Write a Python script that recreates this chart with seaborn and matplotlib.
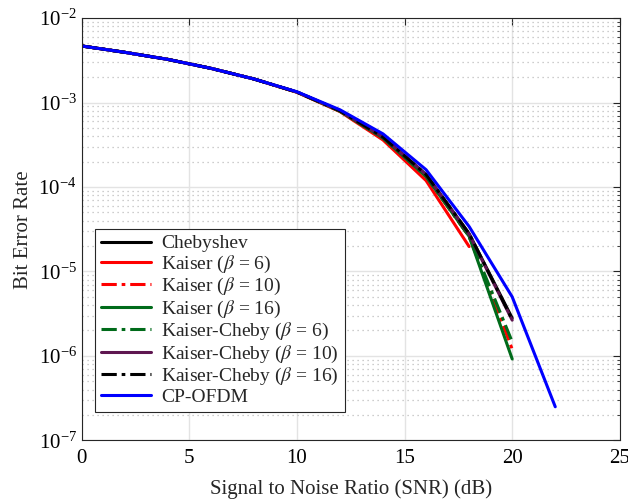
import numpy as np
import pandas as pd
import matplotlib
matplotlib.use("Agg")
import matplotlib.pyplot as plt
import seaborn as sns
from matplotlib.ticker import LogLocator, NullFormatter

snr = [0, 2, 4, 6, 8, 10, 12, 14, 16, 18, 20]
snr_k6 = [0, 2, 4, 6, 8, 10, 12, 14, 16, 18]
snr_cp = [0, 2, 4, 6, 8, 10, 12, 14, 16, 18, 20, 22]

chebyshev = [4.67e-3, 3.93e-3, 3.24e-3, 2.54e-3, 1.90e-3, 1.33e-3, 8.0e-4, 3.9e-4, 1.40e-4, 2.8e-5, 2.8e-6]
kaiser6 = [4.67e-3, 3.93e-3, 3.24e-3, 2.54e-3, 1.90e-3, 1.32e-3, 7.8e-4, 3.6e-4, 1.19e-4, 1.97e-5]
kaiser10 = [4.67e-3, 3.93e-3, 3.24e-3, 2.54e-3, 1.90e-3, 1.33e-3, 7.9e-4, 3.8e-4, 1.33e-4, 2.6e-5, 1.2e-6]
kaiser16 = [4.67e-3, 3.93e-3, 3.24e-3, 2.54e-3, 1.90e-3, 1.33e-3, 7.9e-4, 3.8e-4, 1.33e-4, 2.6e-5, 9.2e-7]
kc6 = [4.67e-3, 3.93e-3, 3.24e-3, 2.54e-3, 1.90e-3, 1.33e-3, 7.9e-4, 3.8e-4, 1.34e-4, 2.6e-5, 1.47e-6]
kc10 = [4.67e-3, 3.93e-3, 3.24e-3, 2.54e-3, 1.90e-3, 1.33e-3, 8.0e-4, 3.9e-4, 1.40e-4, 2.75e-5, 2.65e-6]
kc16 = [4.67e-3, 3.93e-3, 3.24e-3, 2.54e-3, 1.90e-3, 1.33e-3, 8.0e-4, 3.9e-4, 1.40e-4, 2.8e-5, 2.7e-6]
cpofdm = [4.67e-3, 3.93e-3, 3.24e-3, 2.54e-3, 1.90e-3, 1.34e-3, 8.2e-4, 4.25e-4, 1.60e-4, 3.4e-5, 5.0e-6, 2.5e-7]

labels = ["Chebyshev", r"Kaiser ($\beta$ = 6)", r"Kaiser ($\beta$ = 10)", r"Kaiser ($\beta$ = 16)",
          r"Kaiser-Cheby ($\beta$ = 6)", r"Kaiser-Cheby ($\beta$ = 10)", r"Kaiser-Cheby ($\beta$ = 16)", "CP-OFDM"]

sns.set_style("white")
plt.rcParams['font.family'] = ['Liberation Serif', 'DejaVu Serif']
plt.rcParams['mathtext.fontset'] = 'stix'

fig = plt.figure(figsize=(6.28, 5.01), dpi=100)
ax = fig.add_axes([0.130, 0.121, 0.857, 0.843])

dd = (0, (5, 1.6, 1.2, 1.6))
series = [
    (snr, chebyshev, "black", "-"),
    (snr_k6, kaiser6, "#ff0000", "-"),
    (snr, kaiser10, "#ff0000", dd),
    (snr, kaiser16, "#006b1a", "-"),
    (snr, kc6, "#006b1a", dd),
    (snr, kc10, "#5e1650", "-"),
    (snr, kc16, "black", dd),
    (snr_cp, cpofdm, "#0000ff", "-"),
]
for (xs, ys, c, ls), lab in zip(series, labels):
    sns.lineplot(x=xs, y=ys, ax=ax, color=c, linestyle=ls, linewidth=2.2, label=lab)

ax.set_yscale("log")
ax.set_xlim(0, 25)
ax.set_ylim(1e-7, 1e-2)
ax.set_xticks([0, 5, 10, 15, 20, 25])
ax.yaxis.set_major_locator(LogLocator(base=10, numticks=10))
ax.yaxis.set_minor_locator(LogLocator(base=10, subs=np.arange(2, 10), numticks=20))
ax.yaxis.set_minor_formatter(NullFormatter())

ax.grid(True, which="major", color="#e3e3e3", linewidth=1.0, linestyle="-")
ax.grid(True, which="minor", axis="y", color="#bdbdbd", linewidth=0.9, linestyle=(0, (1, 3)))
ax.set_axisbelow(True)

for s in ax.spines.values():
    s.set_color("#262626")
    s.set_linewidth(0.8)
ax.tick_params(which="both", direction="in", top=True, right=True, colors="#262626", labelcolor="black")
ax.tick_params(which="major", length=5, labelsize=15)
ax.tick_params(which="minor", length=2.5)
ax.tick_params(axis="x", pad=6)

ax.set_xlabel("Signal to Noise Ratio (SNR) (dB)", fontsize=15, labelpad=8)
ax.set_ylabel("Bit Error Rate", fontsize=15, labelpad=4)

leg = ax.legend(loc="lower left", bbox_to_anchor=(0.025, 0.067), borderaxespad=0,
                fontsize=14, fancybox=False, handlelength=2.6, handletextpad=0.5,
                labelspacing=0.07, borderpad=0.3, framealpha=1)
leg.get_frame().set_edgecolor("#262626")
leg.get_frame().set_linewidth(0.8)
for h in leg.get_lines():
    h.set_linewidth(2.2)

fig.savefig("out.png", dpi=100)
